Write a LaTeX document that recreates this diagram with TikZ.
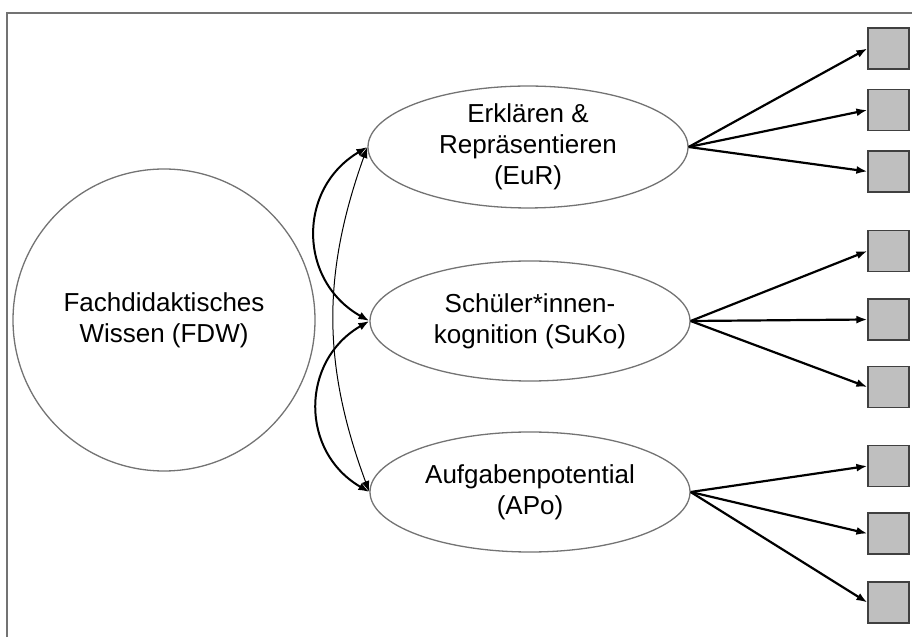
\documentclass[tikz,border=0pt]{standalone}
\usepackage{fontspec}
\setmainfont{Liberation Sans}
\usetikzlibrary{shapes.geometric, arrows.meta}

\begin{document}
\begin{tikzpicture}[x=1pt, y=1pt,
            > = {Latex[length=11pt,width=8pt]},
  factor/.style = {circle, draw=black!55, line width=1.3pt, minimum size=302pt,
                   inner sep=0pt, align=center, font=\fontsize{26}{31}\selectfont},
   facet/.style = {ellipse, draw=black!55, line width=1.3pt, minimum width=320pt,
                   minimum height=120pt, inner sep=0pt, align=center,
                   font=\fontsize{26}{31}\selectfont},
    item/.style = {rectangle, draw=black!75, line width=1.2pt, fill=black!25,
                   minimum size=41pt, inner sep=0pt},
 loading/.style = {line width=2.2pt, ->},
     cov/.style = {line width=2pt, <->, bend right=60, looseness=1.2},
 covthin/.style = {line width=1pt, <->, bend right=20}
                        ]
\useasboundingbox (0,0) rectangle (912,637);
% frame
    \draw[black!55, line width=2pt] (7,0) -- (7,624) -- (912,624);
% latent variables
    \node[factor] (fdw)  at (164,317) {Fachdidaktisches\\Wissen (FDW)};
    \node[facet]  (eur)  at (528,490) {Erklären \&\\Repräsentieren\\(EuR)};
    \node[facet]  (suko) at (530,316) {Schüler*innen-\\kognition (SuKo)};
    \node[facet]  (apo)  at (530,145) {Aufgabenpotential\\(APo)};
% indicators
    \node[item] (i1) at (888.5,588.5) {};
    \node[item] (i2) at (888.5,527)   {};
    \node[item] (i3) at (888.5,465.5) {};
    \node[item] (i4) at (888.5,386)   {};
    \node[item] (i5) at (888.5,317.5) {};
    \node[item] (i6) at (888.5,250)   {};
    \node[item] (i7) at (888.5,171)   {};
    \node[item] (i8) at (888.5,103.5) {};
    \node[item] (i9) at (888.5,34.5)  {};
% loadings
    \draw[loading] (eur.east)  -- (i1.west);
    \draw[loading] (eur.east)  -- (i2.west);
    \draw[loading] (eur.east)  -- (i3.west);
    \draw[loading] (suko.east) -- (i4.west);
    \draw[loading] (suko.east) -- (i5.west);
    \draw[loading] (suko.east) -- (i6.west);
    \draw[loading] (apo.east)  -- (i7.west);
    \draw[loading] (apo.east)  -- (i8.west);
    \draw[loading] (apo.east)  -- (i9.west);
% covariances
    \draw[cov] (eur.west)  to (suko.west);
    \draw[cov] (suko.west) to (apo.west);
    \draw[covthin] (eur.west) to (apo.west);
\end{tikzpicture}
\end{document}
